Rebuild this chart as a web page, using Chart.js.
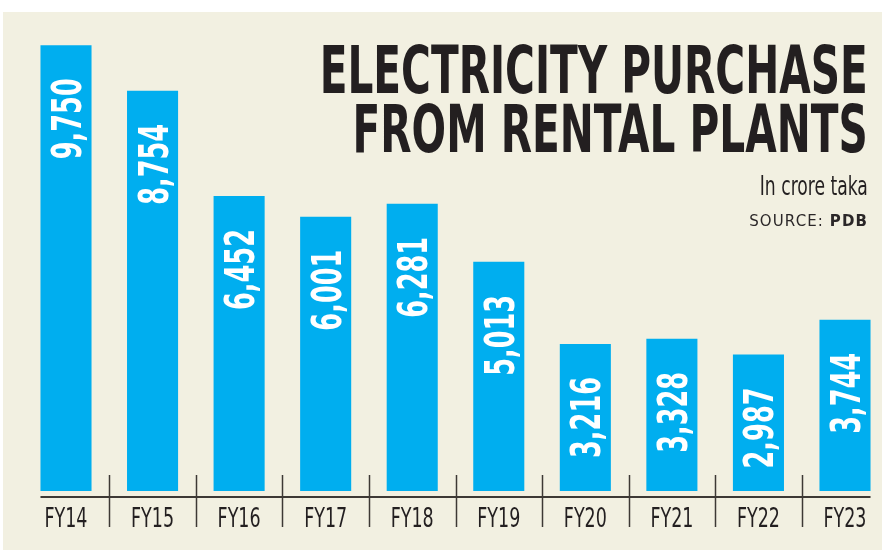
<!DOCTYPE html>
<html>
<head>
<meta charset="utf-8">
<script src="https://cdn.jsdelivr.net/npm/chart.js@4.4.0/dist/chart.umd.min.js"></script>
<style>
  html, body { margin: 0; padding: 0; background: #ffffff; }
  #wrap { position: relative; width: 882px; height: 550px; overflow: hidden; }
  #panel { position: absolute; left: 3px; top: 12px; width: 879px; height: 538px; background: #f2f0e1; }
  #myChart { position: absolute; left: 0; top: 0; }
  .cond { font-family: "DejaVu Sans Condensed", "Liberation Sans", sans-serif; color: #231f20; position: absolute; white-space: nowrap; transform-origin: right top; }
  #title { right: 14px; top: 41px; font-size: 66px; font-weight: bold; line-height: 59px; text-align: right; }
  #unit { right: 14px; top: 170px; font-size: 27px; }
  #source { right: 14px; top: 212px; font-family: "DejaVu Sans", sans-serif; font-size: 15px; letter-spacing: 1.1px; color: #2b2728; position: absolute; white-space: nowrap; }
</style>
</head>
<body>
<div id="wrap">
  <div id="panel"></div>
  <canvas id="myChart" width="882" height="550"></canvas>
  <div id="title" class="cond">ELECTRICITY PURCHASE<br>FROM RENTAL PLANTS</div>
  <div id="unit" class="cond">In crore taka</div>
  <div id="source">SOURCE: <b>PDB</b></div>
</div>
<script>
// Chart data
const years = ['FY14', 'FY15', 'FY16', 'FY17', 'FY18', 'FY19', 'FY20', 'FY21', 'FY22', 'FY23'];
const purchase = [9750, 8754, 6452, 6001, 6281, 5013, 3216, 3328, 2987, 3744];
const valueLabels = ['9,750', '8,754', '6,452', '6,001', '6,281', '5,013', '3,216', '3,328', '2,987', '3,744'];

const ink = '#231f20';
const barBlue = '#00aeef';
const cond = '"DejaVu Sans Condensed", "Liberation Sans", sans-serif';

// squeeze the condensed headline to its width in the print version
function squeeze(id, targetWidth) {
  const el = document.getElementById(id);
  const w = el.getBoundingClientRect().width;
  el.style.transform = `scaleX(${targetWidth / w})`;
}
squeeze('title', 548);
squeeze('unit', 108);

// Baseline, separators, year labels and rotated value labels
const decorations = {
  id: 'decorations',
  afterDatasetsDraw(chart) {
    const ctx = chart.ctx;
    const area = chart.chartArea;
    const xScale = chart.scales.x;
    const bars = chart.getDatasetMeta(0).data;
    ctx.save();

    // baseline below the bars
    const first = bars[0], last = bars[bars.length - 1];
    ctx.strokeStyle = '#3d3935';
    ctx.lineWidth = 2;
    ctx.beginPath();
    ctx.moveTo(first.x - first.width / 2, area.bottom + 6);
    ctx.lineTo(last.x + last.width / 2, area.bottom + 6);
    ctx.stroke();

    // separators between years
    ctx.lineWidth = 1.5;
    for (let i = 0; i < years.length - 1; i++) {
      const x = Math.round((xScale.getPixelForValue(i) + xScale.getPixelForValue(i + 1)) / 2) + 0.5;
      ctx.beginPath();
      ctx.moveTo(x, area.bottom - 16);
      ctx.lineTo(x, area.bottom + 36);
      ctx.stroke();
    }

    // year labels, condensed
    ctx.fillStyle = ink;
    ctx.font = '26px ' + cond;
    ctx.textAlign = 'center';
    ctx.textBaseline = 'alphabetic';
    const yearSqueeze = 43 / ctx.measureText('FY14').width;
    years.forEach((yr, i) => {
      ctx.save();
      ctx.translate(xScale.getPixelForValue(i), area.bottom + 36);
      ctx.scale(yearSqueeze, 1);
      ctx.fillText(yr, 0, 0);
      ctx.restore();
    });

    // values written up the bars
    ctx.fillStyle = '#ffffff';
    ctx.font = 'bold 40px ' + cond;
    ctx.textAlign = 'right';
    const valSqueeze = 81 / ctx.measureText('9,750').width;
    bars.forEach((bar, i) => {
      ctx.save();
      ctx.translate(bar.x + 15, bar.y + 33);
      ctx.rotate(-Math.PI / 2);
      ctx.scale(valSqueeze, 1);
      ctx.fillText(valueLabels[i], 0, 0);
      ctx.restore();
    });
    ctx.restore();
  }
};

const ctx = document.getElementById('myChart').getContext('2d');
const myChart = new Chart(ctx, {
  type: 'bar',
  data: {
    labels: years,
    datasets: [{
      data: purchase,
      backgroundColor: barBlue,
      borderWidth: 0,
      categoryPercentage: 1,
      barPercentage: 0.59,
      clip: false
    }]
  },
  options: {
    responsive: false,
    animation: false,
    devicePixelRatio: 1,
    layout: { padding: { left: 66, right: 37, top: 11, bottom: 59 } },
    plugins: {
      legend: { display: false },
      tooltip: { enabled: false }
    },
    scales: {
      x: {
        offset: false,
        grid: { display: false, drawTicks: false },
        border: { display: false },
        ticks: { display: false }
      },
      y: {
        display: false,
        min: 0,
        max: 10500
      }
    }
  },
  plugins: [decorations]
});
</script>
</body>
</html>
